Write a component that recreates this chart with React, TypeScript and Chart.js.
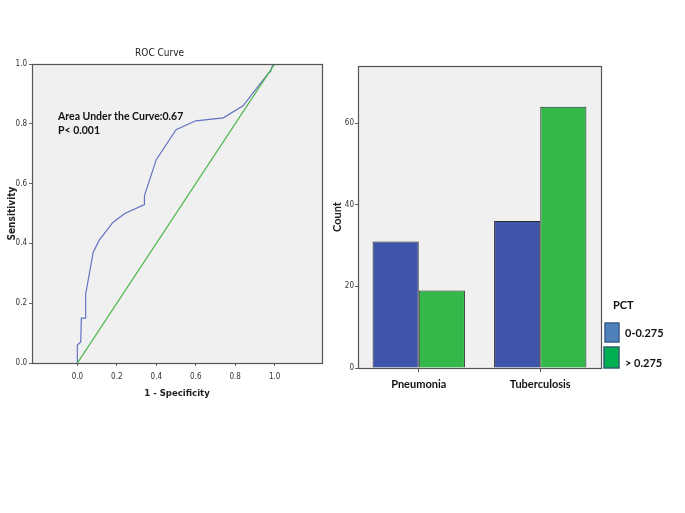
import React, { useEffect, useRef } from 'react';
import Chart from 'chart.js/auto';

// ROC curve data (1 - specificity, sensitivity)
const rocFpr = [0, 0, 0.017, 0.02, 0.042, 0.042, 0.08, 0.11, 0.18, 0.24, 0.34, 0.34, 0.40, 0.50, 0.60, 0.74, 0.84, 0.91, 0.97, 0.98, 0.985, 1.0];
const rocTpr = [0, 0.06, 0.07, 0.15, 0.15, 0.23, 0.37, 0.41, 0.47, 0.50, 0.53, 0.56, 0.68, 0.78, 0.81, 0.82, 0.86, 0.92, 0.97, 0.975, 0.99, 1.0];
const diagX = [0, 1];
const diagY = [0, 1];
const rocTicks = [0, 0.2, 0.4, 0.6, 0.8, 1.0];
const aucText = ['Area Under the Curve:0.67', 'P< 0.001'];

// Bar chart data
const categories = ['Pneumonia', 'Tuberculosis'];
const seriesLabels = ['0-0.275', '> 0.275'];
const lowPct = [31, 36];
const highPct = [19, 64];
const countTicks = [0, 20, 40, 60];

const NARROW = '"Liberation Sans Narrow", "Arial Narrow", "DejaVu Sans Condensed", "Liberation Sans", Arial, sans-serif';
const BOLDTXT = 'Lato, "Open Sans", "Liberation Sans", sans-serif';

const framePlugin = {
  id: 'frame',
  beforeDraw(chart: any) {
    const { ctx, chartArea: a } = chart;
    ctx.save();
    ctx.fillStyle = '#F0F0F0';
    ctx.fillRect(a.left, a.top, a.right - a.left, a.bottom - a.top);
    ctx.restore();
  },
  afterDatasetsDraw(chart: any) {
    const { ctx, chartArea: a } = chart;
    ctx.save();
    ctx.strokeStyle = '#555';
    ctx.lineWidth = 1.2;
    ctx.strokeRect(Math.round(a.left) + 0.5, Math.round(a.top) + 0.5, Math.round(a.right - a.left), Math.round(a.bottom - a.top));
    ctx.restore();
  },
};

const rocTextPlugin = {
  id: 'rocText',
  afterDraw(chart: any) {
    const { ctx, chartArea: a } = chart;
    ctx.save();
    ctx.fillStyle = '#222';
    ctx.font = '10px ' + NARROW;
    ctx.textAlign = 'center';
    ctx.textBaseline = 'middle';
    ctx.fillText('ROC Curve', a.left + (a.right - a.left) * 0.44, a.top - 11);
    ctx.font = 'bold 10.5px ' + BOLDTXT;
    ctx.textAlign = 'left';
    ctx.fillStyle = '#111';
    ctx.fillText(aucText[0], a.left + 26, a.top + 53);
    ctx.fillText(aucText[1], a.left + 26, a.top + 67);
    ctx.restore();
  },
};

const legendFill = ['#4F81BD', '#00B050'];
const legendBorder = ['#385D8A', '#2F5F6F'];

const barLegendPlugin = {
  id: 'barLegend',
  afterDraw(chart: any) {
    const { ctx, chartArea: a } = chart;
    ctx.save();
    ctx.fillStyle = '#111';
    ctx.font = 'bold 11px ' + BOLDTXT;
    ctx.textBaseline = 'middle';
    ctx.textAlign = 'left';
    ctx.fillText('PCT', a.right + 12, a.top + 239);
    const boxes = [
      { x: a.right + 4, y: a.top + 257, w: 14, h: 19 },
      { x: a.right + 3, y: a.top + 281, w: 15, h: 21 },
    ];
    const textY = [a.top + 267, a.top + 297];
    chart.data.datasets.forEach((ds: any, i: number) => {
      const b = boxes[i];
      ctx.fillStyle = legendFill[i];
      ctx.fillRect(b.x, b.y, b.w, b.h);
      ctx.strokeStyle = legendBorder[i];
      ctx.lineWidth = 1.5;
      ctx.strokeRect(b.x, b.y, b.w, b.h);
      ctx.fillStyle = '#111';
      ctx.fillText(ds.label, a.right + 24, textY[i]);
    });
    ctx.restore();
  },
};

function RocChart() {
  const ref = useRef<HTMLCanvasElement>(null);
  useEffect(() => {
    const chart = new Chart(ref.current as HTMLCanvasElement, {
      type: 'scatter',
      data: {
        datasets: [
          {
            label: 'Reference',
            data: diagX.map((x, i) => ({ x, y: diagY[i] })),
            showLine: true,
            borderColor: '#4DB84D',
            borderWidth: 1.3,
            pointRadius: 0,
          },
          {
            label: 'ROC',
            data: rocFpr.map((x, i) => ({ x, y: rocTpr[i] })),
            showLine: true,
            borderColor: '#6373C2',
            borderWidth: 1.2,
            pointRadius: 0,
            tension: 0,
          },
        ],
      },
      options: {
        animation: false,
        responsive: false,
        layout: { padding: { left: 0, top: 64, right: 18, bottom: 0 } },
        plugins: { legend: { display: false }, tooltip: { enabled: false }, title: { display: false } },
        scales: {
          x: {
            type: 'linear',
            min: -0.23,
            max: 1.24,
            afterBuildTicks: (s: any) => { s.ticks = rocTicks.map((v) => ({ value: v })); },
            afterFit: (s: any) => { s.height = 57; },
            grid: { drawOnChartArea: false, drawTicks: true, tickLength: 3, color: '#666' },
            border: { display: false },
            ticks: { font: { family: NARROW, size: 8 }, color: '#333', padding: 6, maxRotation: 0, autoSkip: false, callback: (v: any) => Number(v).toFixed(1) },
            title: { display: true, text: '1 - Specificity', font: { family: NARROW, size: 9.5, weight: 'bold' }, color: '#222', padding: { top: 0, bottom: 21 } },
          },
          y: {
            type: 'linear',
            min: 0,
            max: 1,
            afterBuildTicks: (s: any) => { s.ticks = rocTicks.map((v) => ({ value: v })); },
            afterFit: (s: any) => { s.width = 32; },
            grid: { drawOnChartArea: false, drawTicks: true, tickLength: 3, color: '#666' },
            border: { display: false },
            ticks: { font: { family: NARROW, size: 8 }, color: '#333', padding: 2, autoSkip: false, callback: (v: any) => Number(v).toFixed(1) },
            title: { display: true, text: 'Sensitivity', font: { family: NARROW, size: 10, weight: 'bold' }, color: '#222', padding: { top: 6, bottom: 0 } },
          },
        },
      },
      plugins: [framePlugin, rocTextPlugin],
    } as any);
    return () => chart.destroy();
  }, []);
  return <canvas ref={ref} width={340} height={420} style={{ position: 'absolute', left: 0, top: 0, width: 340, height: 420 }} />;
}

function BarChart() {
  const ref = useRef<HTMLCanvasElement>(null);
  useEffect(() => {
    const chart = new Chart(ref.current as HTMLCanvasElement, {
      type: 'bar',
      data: {
        labels: categories,
        datasets: [
          { label: seriesLabels[0], data: lowPct, backgroundColor: '#3E55A9', borderColor: '#2a2a2a', borderWidth: 1 },
          { label: seriesLabels[1], data: highPct, backgroundColor: '#33B84A', borderColor: '#2a2a2a', borderWidth: 1 },
        ],
      },
      options: {
        animation: false,
        responsive: false,
        layout: { padding: { left: 0, top: 66, right: 84, bottom: 0 } },
        datasets: { bar: { barPercentage: 1, categoryPercentage: 0.76 } },
        plugins: { legend: { display: false }, tooltip: { enabled: false }, title: { display: false } },
        scales: {
          x: {
            afterFit: (s: any) => { s.height = 52; },
            grid: { drawOnChartArea: false, drawTicks: true, tickLength: 4, color: '#555', offset: false },
            border: { display: false },
            ticks: { font: { family: BOLDTXT, size: 11, weight: 'bold' }, color: '#111', padding: 6, maxRotation: 0 },
          },
          y: {
            type: 'linear',
            min: 0,
            max: 74,
            afterBuildTicks: (s: any) => { s.ticks = countTicks.map((v) => ({ value: v })); },
            afterFit: (s: any) => { s.width = 28; },
            grid: { drawOnChartArea: false, drawTicks: true, tickLength: 3, color: '#666' },
            border: { display: false },
            ticks: { font: { family: NARROW, size: 8 }, color: '#333', padding: 1, autoSkip: false },
            title: { display: true, text: 'Count', font: { family: BOLDTXT, size: 11, weight: 'bold' }, color: '#222', padding: { top: 1, bottom: 0 } },
          },
        },
      },
      plugins: [framePlugin, barLegendPlugin],
    } as any);
    return () => chart.destroy();
  }, []);
  return <canvas ref={ref} width={355} height={420} style={{ position: 'absolute', left: 330, top: 0, width: 355, height: 420 }} />;
}

export default function App() {
  return (
    <div style={{ position: 'absolute', left: 0, top: 0, width: 685, height: 513, background: '#fff', overflow: 'hidden' }}>
      <RocChart />
      <BarChart />
    </div>
  );
}
